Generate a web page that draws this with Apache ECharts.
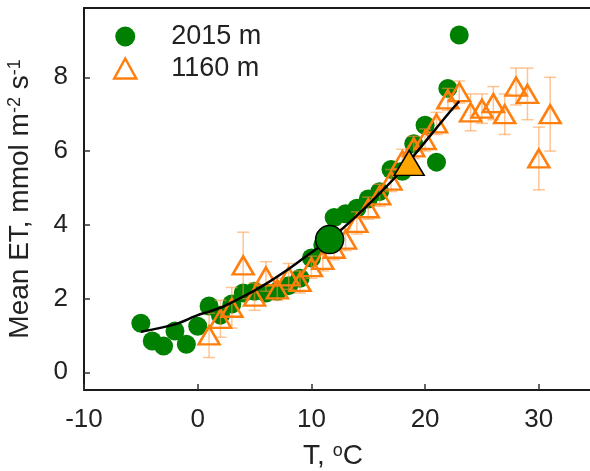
<!DOCTYPE html>
<html>
<head>
<meta charset="utf-8">
<script src="https://cdn.jsdelivr.net/npm/echarts@6/dist/echarts.min.js"></script>
<style>
html,body{margin:0;padding:0;background:#fff;}
#chart{width:590px;height:471px;}
</style>
</head>
<body>
<div id="chart"></div>
<script>
// ---- data ----
const xTicks = [-10, 0, 10, 20, 30];
const yTicks = [0, 2, 4, 6, 8];

const tempHigh = [-5,-4,-3,-2,-1,0,1,2,3,4,5,6,7,8,9,10,11,12,13,14,15,16,17,18,19,20,21,22,23];
const etHigh   = [1.33,0.85,0.71,1.12,0.76,1.25,1.8,1.55,1.85,2.15,2.2,2.15,2.2,2.35,2.55,3.1,3.45,4.2,4.3,4.45,4.7,4.9,5.5,5.45,6.2,6.7,5.7,7.7,9.15];

const tempLow = [1,2,3,4,5,6,7,8,9,10,11,12,13,14,15,16,17,18,19,20,21,22,23,24,25,26,27,28,29,30,31];
const etLow   = [1.0,1.45,1.75,2.9,2.05,2.6,2.25,2.6,2.45,2.85,3.05,3.35,3.6,4.05,4.45,4.8,5.2,5.75,6.1,6.3,6.75,7.4,7.6,7.05,7.15,7.3,7.0,7.75,7.55,5.8,7.0];
const errLow  = [0.6,0.5,0.55,0.9,0.37,0.4,0.3,0.35,0.3,0.3,0.3,0.3,0.3,0.3,0.3,0.3,0.3,0.3,0.3,0.3,0.3,0.3,0.3,0.5,0.4,0.45,0.55,0.5,0.7,0.85,1.0];

const fitT  = [-5,-2,0,2,4,6,8,10,11.6,14,16,18,20,22,23];
const fitET = [1.1,1.3,1.55,1.75,2.05,2.4,2.8,3.25,3.6,4.25,4.85,5.5,6.25,7.0,7.35];

const meanHigh = [11.6, 3.6];
const meanLow  = [18.6, 5.68];

const nameHigh = '2015 m';
const nameLow  = '1160 m';

// ---- styling ----
const FONT = 'Liberation Sans, Arial, sans-serif';
const GREEN = '#008000';
const ORANGE = '#ff7f0e';
const ORANGE_LIGHT = 'rgba(255,150,60,0.55)';
const DARK = '#222';
const FRAME = {show: true, onZero: false, lineStyle: {color: '#1a1a1a', width: 2}};

const zip = (a, b) => a.map((v, i) => [v, b[i]]);
const errData = tempLow.map((t, i) => [t, etLow[i] - errLow[i], etLow[i] + errLow[i]]);

const chart = echarts.init(document.getElementById('chart'), null, {renderer: 'canvas'});
chart.setOption({
  animation: false,
  backgroundColor: '#fff',
  textStyle: {fontFamily: FONT},
  grid: {left: 84, top: 8, right: 0, height: 382, show: false, containLabel: false, outerBoundsMode: 'none'},
  legend: {
    orient: 'vertical', left: 108, top: 18, itemWidth: 22, itemHeight: 20, itemGap: 5,
    textStyle: {fontFamily: FONT, fontSize: 27, color: DARK, padding: [0, 0, 0, 30]},
    data: [
      {name: nameHigh, icon: 'circle', itemStyle: {color: GREEN, borderWidth: 0}},
      {name: nameLow, icon: 'triangle', itemStyle: {color: 'rgba(0,0,0,0)', borderColor: ORANGE, borderWidth: 2.5}}
    ]
  },
  xAxis: [{
    type: 'value', min: -10, max: 34.5, position: 'bottom',
    name: 'T, {sup|o}C', nameLocation: 'middle', nameGap: 52,
    nameTextStyle: {fontFamily: FONT, fontSize: 28, color: DARK, padding: [0, 8, 0, 0],
      rich: {sup: {fontSize: 18, verticalAlign: 'top', fontFamily: FONT, color: DARK}}},
    axisLine: FRAME,
    axisTick: {show: true, inside: true, length: 6, customValues: xTicks, lineStyle: {color: '#333', width: 1.5}},
    axisLabel: {customValues: xTicks, margin: 17, fontSize: 26, color: DARK, fontFamily: FONT},
    splitLine: {show: false}
  }, {
    type: 'value', min: -10, max: 34.5, position: 'top',
    axisLine: FRAME, axisTick: {show: false}, axisLabel: {show: false}, splitLine: {show: false}
  }],
  yAxis: {
    type: 'value', min: -0.48, max: 9.88, position: 'left',
    name: 'Mean ET, mmol m{sup|-2} s{sup|-1}', nameLocation: 'middle', nameRotate: 90, nameGap: 50,
    nameTextStyle: {fontFamily: FONT, fontSize: 28, color: DARK,
      rich: {sup: {fontSize: 18, verticalAlign: 'top', fontFamily: FONT, color: DARK}}},
    axisLine: FRAME,
    axisTick: {show: true, inside: true, length: 6, customValues: yTicks, lineStyle: {color: '#333', width: 1.5}},
    axisLabel: {customValues: yTicks, margin: 16, fontSize: 26, color: DARK, fontFamily: FONT},
    splitLine: {show: false}
  },
  series: [
    {
      name: nameHigh, type: 'scatter', z: 1, symbol: 'circle', symbolSize: 19,
      itemStyle: {color: GREEN, opacity: 1},
      data: zip(tempHigh, etHigh)
    },
    {
      name: 'err', type: 'custom', z: 2,
      encode: {x: 0, y: [1, 2]},
      renderItem: function (params, api) {
        const x = api.value(0);
        const p1 = api.coord([x, api.value(1)]);
        const p2 = api.coord([x, api.value(2)]);
        const cw = 6;
        const st = {stroke: ORANGE_LIGHT, lineWidth: 1.5};
        return {type: 'group', children: [
          {type: 'line', shape: {x1: p1[0], y1: p1[1], x2: p2[0], y2: p2[1]}, style: st},
          {type: 'line', shape: {x1: p1[0] - cw, y1: p1[1], x2: p1[0] + cw, y2: p1[1]}, style: st},
          {type: 'line', shape: {x1: p2[0] - cw, y1: p2[1], x2: p2[0] + cw, y2: p2[1]}, style: st}
        ]};
      },
      data: errData
    },
    {
      name: nameLow, type: 'scatter', z: 3, symbol: 'triangle', symbolSize: [21, 18],
      itemStyle: {color: 'rgba(0,0,0,0)', borderColor: ORANGE, borderWidth: 2.5, opacity: 1},
      data: zip(tempLow, etLow)
    },
    {
      name: 'fit', type: 'line', z: 4, smooth: 0.3, symbol: 'none',
      lineStyle: {color: '#000', width: 2.5},
      data: zip(fitT, fitET)
    },
    {
      name: 'meanHigh', type: 'scatter', z: 5, symbol: 'circle', symbolSize: 28,
      itemStyle: {color: GREEN, borderColor: '#000', borderWidth: 1.5, opacity: 1},
      data: [meanHigh]
    },
    {
      name: 'meanLow', type: 'scatter', z: 5, symbol: 'triangle', symbolSize: [30, 25],
      itemStyle: {color: '#ffa500', borderColor: '#000', borderWidth: 1.5, opacity: 1},
      data: [meanLow]
    }
  ]
});
</script>
</body>
</html>
